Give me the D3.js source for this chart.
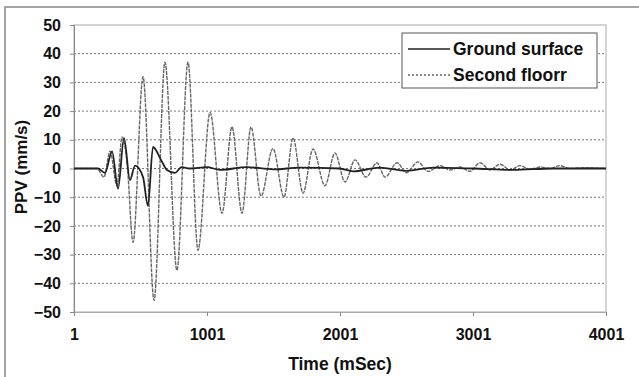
<!DOCTYPE html>
<html>
<head>
<meta charset="utf-8">
<script src="https://cdn.jsdelivr.net/npm/d3@7"></script>
<style>
  html, body { margin: 0; padding: 0; background: #fff; }
  svg { display: block; }
  text { font-family: "Liberation Sans", Arial, sans-serif; font-weight: bold; fill: #111; }
</style>
</head>
<body>
<div id="chart"></div>
<script>
// Time (mSec) and PPV (mm/s), at the turning points of each trace
const groundTime = [1, 181, 234, 287, 332, 377, 422, 460, 520, 557, 595, 655, 700, 760, 810, 870, 1000, 1100, 1300, 1500, 1700, 2000, 2100, 2300, 2500, 2700, 3000, 3300, 3600, 4001]
const groundPPV  = [0, 0, -1.5, 6, -7, 10.6, -4, 1, -3, -13, 7.5, 3, -0.5, -1.5, 0.5, 0, 0.5, -0.5, 0.5, -0.3, 0.3, 0, -1, 0.3, -0.8, 0.3, 0, -0.5, 0, 0]

const secondTime = [1, 174, 226, 272, 324, 362, 400, 445, 520, 603, 685, 775, 858, 933, 1024, 1114, 1189, 1264, 1332, 1407, 1497, 1580, 1648, 1723, 1798, 1888, 1963, 2039, 2114, 2197, 2279, 2340, 2430, 2500, 2587, 2663, 2753, 2828, 2903, 2978, 3054, 3129, 3204, 3279, 3354, 3429, 3505, 3580, 3655, 3730, 3850, 4001]
const secondPPV  = [0, 0, -3, 6, -6, 11, 2, -25.7, 32, -46, 37, -35.5, 37, -28.5, 19.5, -15.6, 14.5, -15.6, 14.5, -9.6, 7, -10, 10.6, -8.6, 6.8, -6, 5.4, -4.7, 3, -3, 2, -3, 2, -1.5, 2.3, -1, 1, -0.5, 0.5, -1, 2, -0.5, 1.5, -0.5, 1, -0.3, 0.5, 0, 1, 0, 0.3, 0]

const xTicks = [1, 1001, 2001, 3001, 4001]
const yTicks = [50, 40, 30, 20, 10, 0, -10, -20, -30, -40, -50]
const seriesNames = ['Ground surface', 'Second floorr']

const width = 639
const height = 377
const plot = { left: 74, top: 25, right: 606, bottom: 312 }

const svg = d3.select('#chart').append('svg')
  .attr('width', width).attr('height', height)

// chart area border
svg.append('rect').attr('x', 5).attr('y', 7).attr('width', 640).attr('height', 380)
  .attr('fill', '#fff').attr('stroke', '#888').attr('stroke-width', 1.5)

const x = d3.scaleLinear().domain([1, 4001]).range([plot.left, plot.right])
const y = d3.scaleLinear().domain([-50, 50]).range([plot.bottom, plot.top])

// plot area frame
svg.append('rect').attr('x', plot.left).attr('y', plot.top)
  .attr('width', plot.right - plot.left).attr('height', plot.bottom - plot.top)
  .attr('fill', 'none').attr('stroke', '#aaa').attr('stroke-width', 1)

// grid
svg.append('g').selectAll('line').data(yTicks.filter(d => d > -50 && d < 50)).join('line')
  .attr('x1', plot.left).attr('x2', plot.right)
  .attr('y1', d => y(d)).attr('y2', d => y(d))
  .attr('stroke', '#777').attr('stroke-width', 1).attr('stroke-dasharray', '2,2')

// axes
const yAxis = svg.append('g').attr('transform', `translate(${plot.left},0)`)
  .call(d3.axisLeft(y).tickValues(yTicks).tickSize(4).tickPadding(9))
yAxis.select('.domain').attr('stroke', '#888')
yAxis.selectAll('.tick line').attr('stroke', '#888')
yAxis.selectAll('.tick text').style('font-size', '16px').attr('fill', '#111')

const xAxis = svg.append('g').attr('transform', `translate(0,${plot.bottom})`)
  .call(d3.axisBottom(x).tickValues(xTicks).tickFormat(d3.format('d')).tickSize(4).tickPadding(13))
xAxis.select('.domain').attr('stroke', '#aaa')
xAxis.selectAll('.tick line').attr('stroke', '#888')
xAxis.selectAll('.tick text').style('font-size', '16px').attr('fill', '#111')

// axis titles
svg.append('text').attr('x', 340).attr('y', 370).attr('text-anchor', 'middle')
  .style('font-size', '17.5px').text('Time (mSec)')
svg.append('text').attr('transform', 'translate(27,167) rotate(-90)').attr('text-anchor', 'middle')
  .style('font-size', '17px').text('PPV (mm/s)')

const line = d3.line().x(d => x(d[0])).y(d => y(d[1])).curve(d3.curveMonotoneX)

const second = secondTime.map((t, i) => [t, secondPPV[i]])
const ground = groundTime.map((t, i) => [t, groundPPV[i]])

svg.append('path').datum(second).attr('d', line)
  .attr('fill', 'none').attr('stroke', '#666').attr('stroke-width', 1.4).attr('stroke-dasharray', '4,1')
svg.append('path').datum(ground).attr('d', line)
  .attr('fill', 'none').attr('stroke', '#222').attr('stroke-width', 1.8)

// legend
const lg = svg.append('g')
lg.append('rect').attr('x', 402).attr('y', 33).attr('width', 195).attr('height', 55)
  .attr('fill', '#fff').attr('stroke', '#555').attr('stroke-width', 1)
seriesNames.forEach((s, i) => {
  const ly = 49 + i * 26
  lg.append('line').attr('x1', 408).attr('x2', 450).attr('y1', ly).attr('y2', ly)
    .attr('stroke', i === 0 ? '#222' : '#666').attr('stroke-width', i === 0 ? 1.4 : 1.3)
    .attr('stroke-dasharray', i === 0 ? null : '2,2')
  lg.append('text').attr('x', 453).attr('y', ly + 6).style('font-size', '17.5px').text(s)
})
</script>
</body>
</html>
